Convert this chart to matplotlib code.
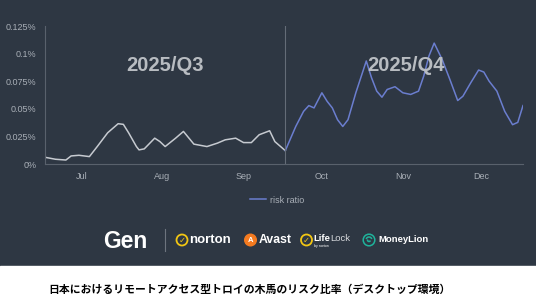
import matplotlib
matplotlib.use("Agg")
import matplotlib.pyplot as plt
import matplotlib.dates as mdates
from matplotlib.patches import Circle, Rectangle, Arc
import pandas as pd

# readings (risk ratio, in %)
q3_dates = ["2025-07-01", "2025-07-05", "2025-07-09", "2025-07-11", "2025-07-14",
            "2025-07-18", "2025-07-21", "2025-07-25", "2025-07-29", "2025-07-31",
            "2025-08-02", "2025-08-05", "2025-08-06", "2025-08-08", "2025-08-12",
            "2025-08-14", "2025-08-16", "2025-08-20", "2025-08-23", "2025-08-27",
            "2025-09-01", "2025-09-05", "2025-09-08", "2025-09-12", "2025-09-15",
            "2025-09-18", "2025-09-21", "2025-09-25", "2025-09-27", "2025-10-01"]
q3_values = [0.0061, 0.0043, 0.0036, 0.0073, 0.0079,
             0.0067, 0.0158, 0.0283, 0.0365, 0.0359,
             0.0283, 0.0158, 0.0128, 0.0137, 0.0234,
             0.0203, 0.0158, 0.0234, 0.0295, 0.0180,
             0.0158, 0.0189, 0.0219, 0.0234, 0.0194,
             0.0194, 0.0265, 0.0301, 0.0203, 0.0121]

q4_dates = ["2025-10-01", "2025-10-05", "2025-10-08", "2025-10-10", "2025-10-12",
            "2025-10-15", "2025-10-17", "2025-10-19", "2025-10-21", "2025-10-23",
            "2025-10-25", "2025-10-28", "2025-11-01", "2025-11-03", "2025-11-05",
            "2025-11-07", "2025-11-09", "2025-11-12", "2025-11-15", "2025-11-18",
            "2025-11-21", "2025-11-23", "2025-11-25", "2025-11-27", "2025-11-30",
            "2025-12-03", "2025-12-06", "2025-12-08", "2025-12-11", "2025-12-14",
            "2025-12-16", "2025-12-18", "2025-12-21", "2025-12-24", "2025-12-27",
            "2025-12-29", "2025-12-31"]
q4_values = [0.0121, 0.0340, 0.0477, 0.0529, 0.0508,
             0.0645, 0.0568, 0.0508, 0.0401, 0.0340,
             0.0401, 0.0645, 0.0933, 0.0782, 0.0660,
             0.0605, 0.0675, 0.0700, 0.0645, 0.0630,
             0.0660, 0.0797, 0.0979, 0.1095, 0.0949,
             0.0766, 0.0575, 0.0614, 0.0736, 0.0851,
             0.0833, 0.0751, 0.0660, 0.0477, 0.0356,
             0.0377, 0.0529]

y_ticks = [0, 0.025, 0.05, 0.075, 0.1, 0.125]
y_labels = ["0%", "0.025%", "0.05%", "0.075%", "0.1%", "0.125%"]
quarter_split = "2025-10-01"

BG = "#2e3743"
TICK = "#a9afb7"
SPINE = "#59616c"

plt.rcParams['font.family'] = ['Liberation Sans', 'DejaVu Sans']

fig = plt.figure(figsize=(5.36, 3.05), dpi=100)
fig.patch.set_facecolor(BG)

# overlay in pixel coords for the footer / logos
deco = fig.add_axes([0, 0, 1, 1], zorder=0)
deco.set_xlim(0, 536)
deco.set_ylim(305, 0)
deco.axis("off")
deco.add_patch(Rectangle((0, 266), 536, 39, color="white"))

ax = fig.add_axes([45 / 536, 1 - 164 / 305, 478 / 536, 138 / 305], zorder=1)
ax.set_facecolor("none")

q3_x = pd.to_datetime(q3_dates)
q4_x = pd.to_datetime(q4_dates)
ax.plot(q3_x, q3_values, color="#c6cad0", lw=1.1)
line_q4, = ax.plot(q4_x, q4_values, color="#6b7ecf", lw=1.1, label="risk ratio")
ax.axvline(pd.Timestamp(quarter_split), color="#646c77", lw=0.8)

ax.set_xlim(pd.Timestamp("2025-07-01"), pd.Timestamp("2025-12-31"))
ax.set_ylim(0, 0.125)
ax.set_yticks(y_ticks)
ax.set_yticklabels(y_labels)
ax.xaxis.set_major_locator(mdates.MonthLocator(bymonthday=15))
ax.xaxis.set_major_formatter(mdates.DateFormatter("%b"))
ax.tick_params(colors=TICK, labelsize=6.5, length=0, pad=6)
for s in ["top", "right"]:
    ax.spines[s].set_visible(False)
for s in ["left", "bottom"]:
    ax.spines[s].set_color(SPINE)
    ax.spines[s].set_linewidth(0.8)

ax.text(pd.Timestamp("2025-08-16"), 0.089, "2025/Q3", color="#b8bcc1",
        fontsize=14.5, fontweight="bold", ha="center", va="center")
ax.text(pd.Timestamp("2025-11-16"), 0.089, "2025/Q4", color="#b8bcc1",
        fontsize=14.5, fontweight="bold", ha="center", va="center")

leg = fig.legend(handles=[line_q4], loc="center", bbox_to_anchor=(0.517, 0.344),
                 frameon=False, fontsize=6.5, handlelength=1.8, handletextpad=0.5)
for t in leg.get_texts():
    t.set_color(TICK)

# logo strip
deco.text(103, 241, "Gen", color="white", fontsize=16.5, fontweight="bold", va="center")
deco.plot([165, 165], [229, 251], color="#6d747e", lw=0.8)
deco.add_patch(Circle((182, 240), 5.5, fill=False, ec="#f2c613", lw=1.3))
deco.text(182, 240.5, "✓", color="#f2c613", fontsize=6, ha="center", va="center",
          fontfamily="DejaVu Sans", fontweight="bold")
deco.text(189, 240, "norton", color="white", fontsize=9.5, fontweight="bold", va="center")
deco.add_patch(Circle((250.5, 240), 5.8, color="#f57b20"))
deco.text(250.5, 240.5, "A", color="white", fontsize=5.5, ha="center", va="center",
          fontweight="bold")
deco.text(259, 240, "Avast", color="white", fontsize=8.8, fontweight="bold", va="center")
deco.add_patch(Circle((306.5, 240), 5.5, fill=False, ec="#f2c613", lw=1.3))
deco.text(306.5, 240.5, "✓", color="#f2c613", fontsize=6, ha="center", va="center",
          fontfamily="DejaVu Sans", fontweight="bold")
deco.text(313, 238.5, "Life", color="white", fontsize=6.8, fontweight="bold", va="center")
deco.text(330, 238.5, "Lock", color="#d8dadd", fontsize=6.8, va="center")
deco.text(314, 246, "by norton", color="white", fontsize=2.5, va="center")
deco.add_patch(Circle((369, 240), 5.8, fill=False, ec="#1fb39b", lw=1.1))
deco.add_patch(Arc((369, 240), 6, 6, theta1=200, theta2=340, color="#1fb39b", lw=1.1))
deco.add_patch(Arc((369, 240), 3, 3, theta1=20, theta2=200, color="#1fb39b", lw=1.1))
deco.text(378, 240, "MoneyLion", color="white", fontsize=6.8, fontweight="bold", va="center")

deco.text(250, 290, "日本におけるリモートアクセス型トロイの木馬のリスク比率（デスクトップ環境）",
          color="black", fontsize=7.8, fontweight="bold", ha="center", va="center",
          fontfamily=["Noto Sans CJK JP", "DejaVu Sans"])

fig.savefig("out.png", dpi=100, facecolor=fig.get_facecolor())
